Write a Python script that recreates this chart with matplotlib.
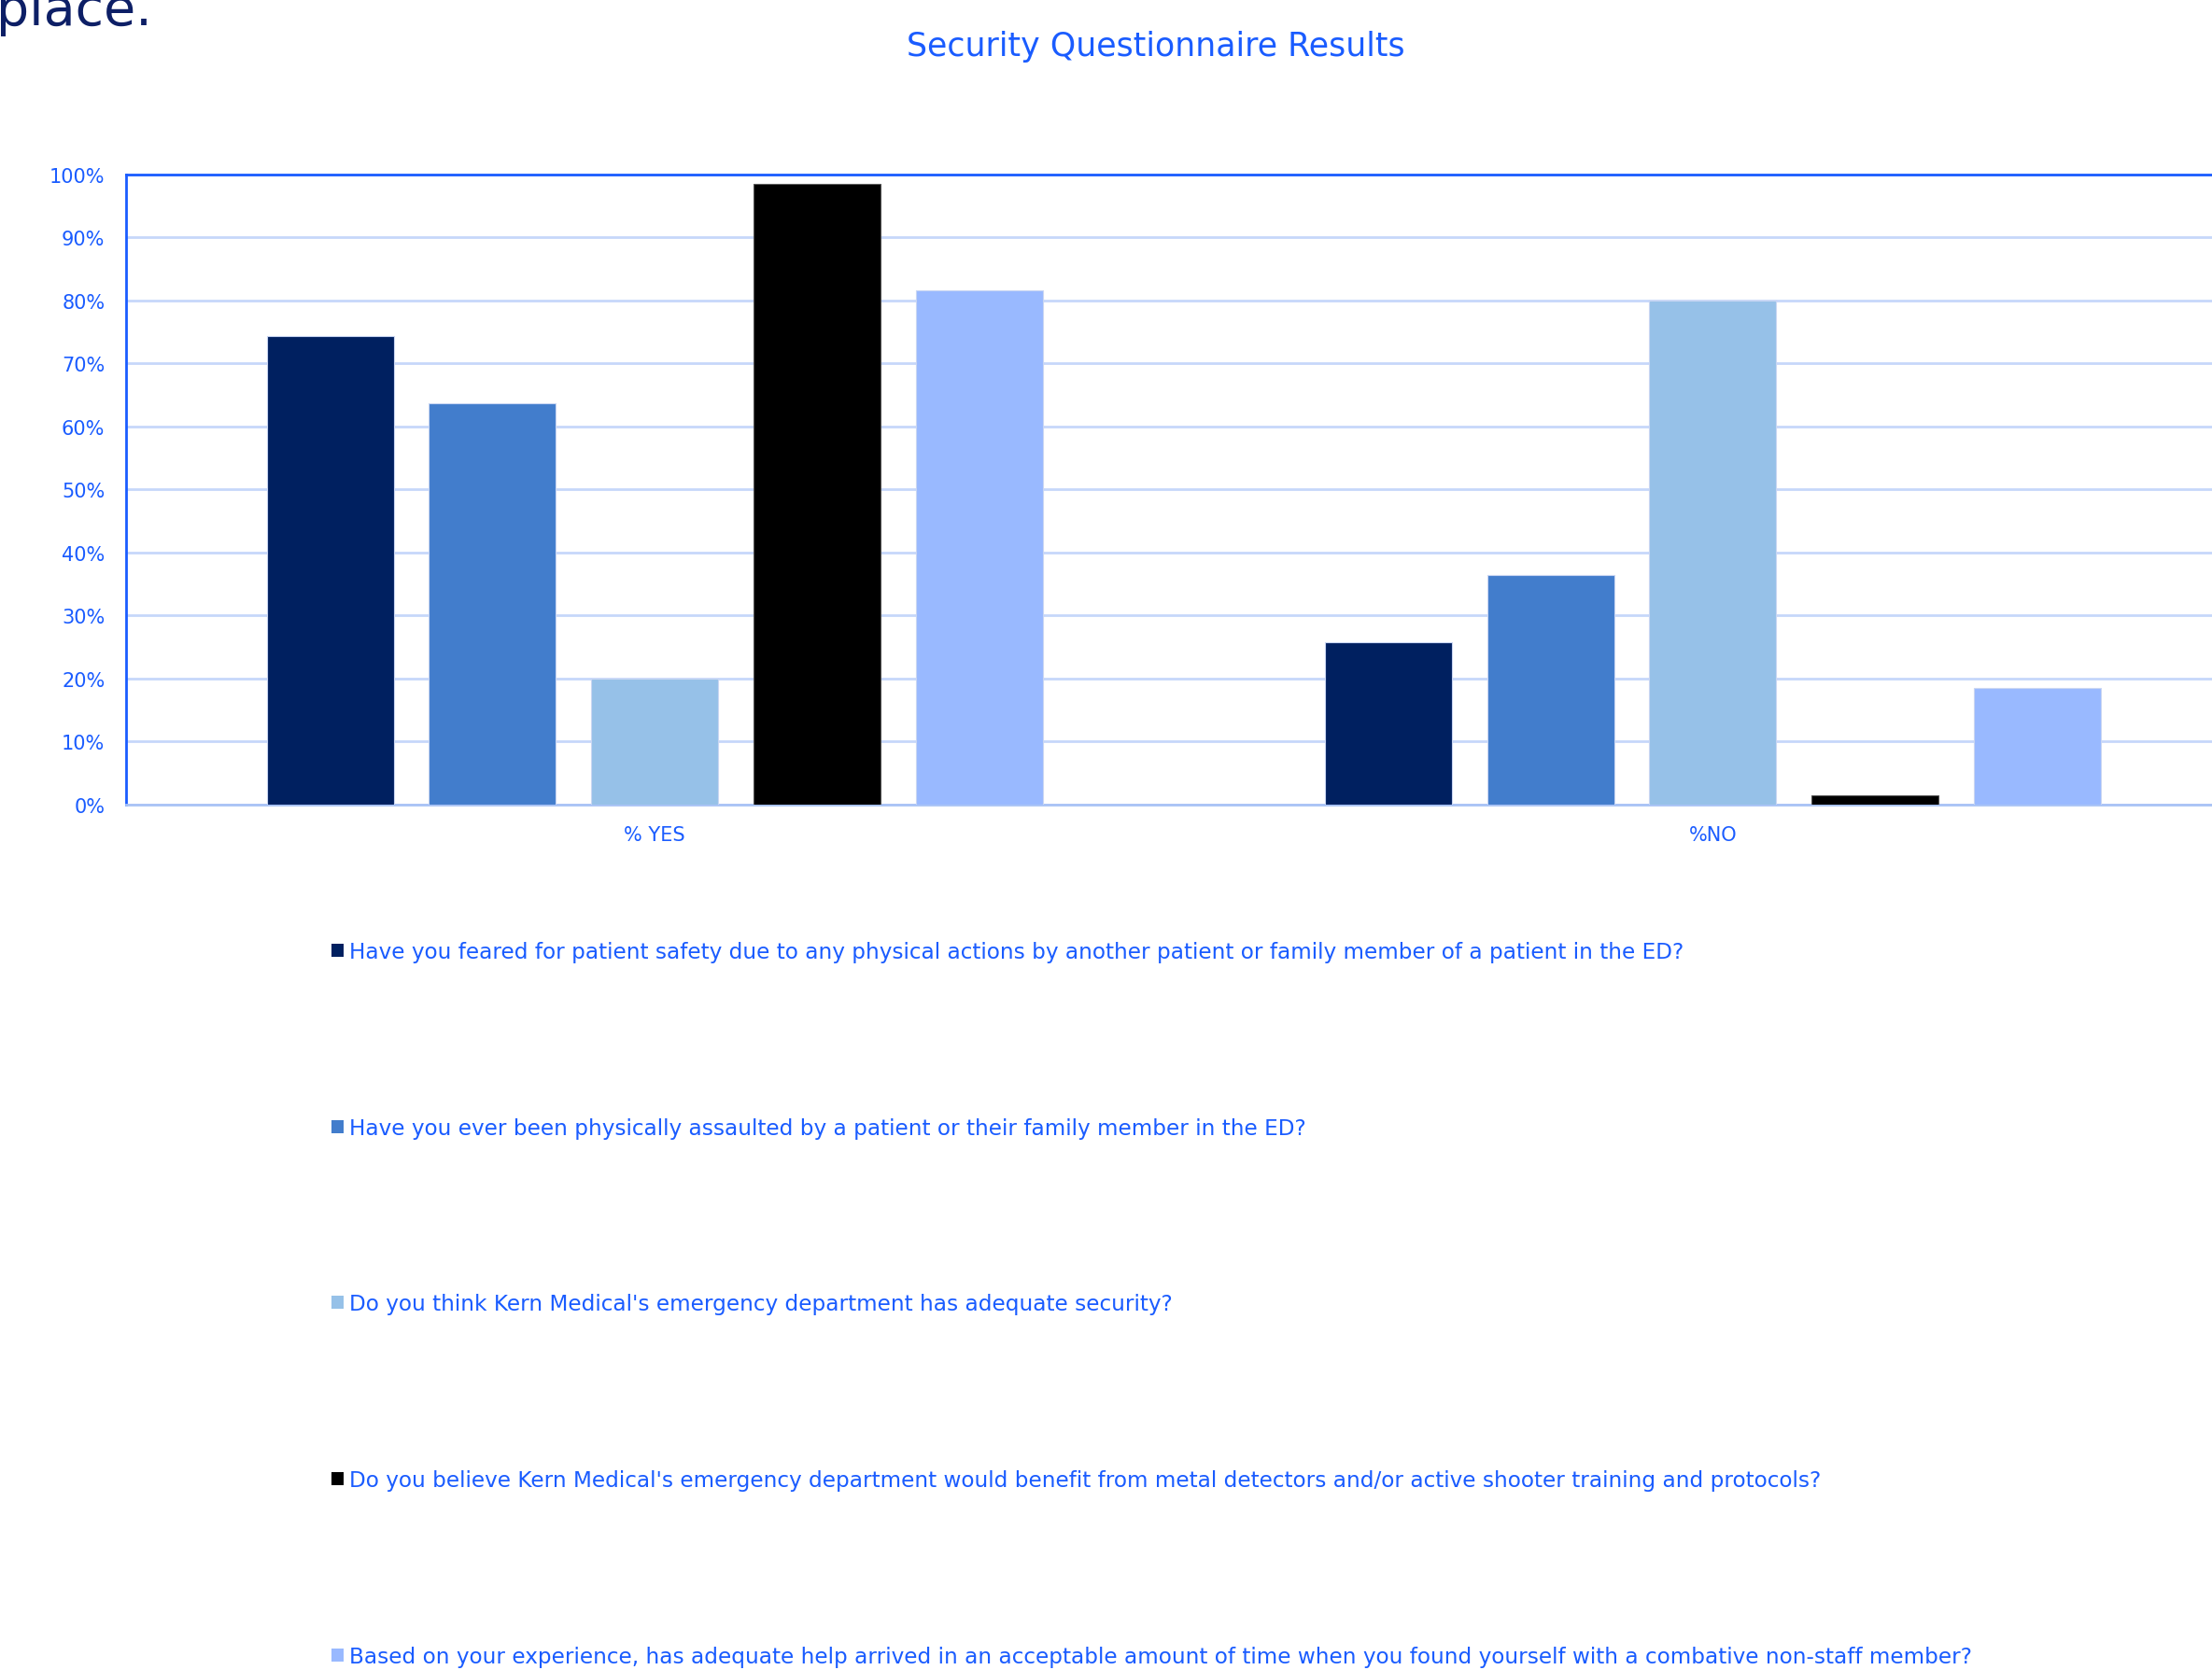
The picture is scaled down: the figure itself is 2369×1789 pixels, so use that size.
import numpy as np
import matplotlib
matplotlib.use('Agg')
import matplotlib.pyplot as plt
from matplotlib import font_manager

# %%
categories = ['% YES', '%NO']
questions = [
    'Have you feared for patient safety due to any physical actions by another patient or family member of a patient in the ED?',
    'Have you ever been physically assaulted by a patient or their family member in the ED?',
    "Do you think Kern Medical's emergency department has adequate security?",
    "Do you believe Kern Medical's emergency department would benefit from metal detectors and/or active shooter training and protocols?",
    'Based on your experience, has adequate help arrived in an acceptable amount of time when you found yourself with a combative non-staff member?',
]
pct_yes = [74.3, 63.6, 20.0, 98.5, 81.5]
pct_no = [25.7, 36.4, 80.0, 1.5, 18.5]
colors = ['#002060', '#427DCC', '#96C1E8', '#000000', '#99B9FF']
yticks = np.arange(0, 101, 10)

# %%
W, H, DPI = 2369, 1790, 100
TXT = '#1A5CFF'
names = {f.name for f in font_manager.fontManager.ttflist}
narrow = 'Liberation Sans Narrow' if 'Liberation Sans Narrow' in names else 'DejaVu Sans'

fig = plt.figure(figsize=(W/DPI, H/DPI), dpi=DPI)
fig.patch.set_facecolor('white')


def px(x, y):
    '''pixel (from top-left) -> figure fraction'''
    return x/W, 1 - y/H


def fit_width(txt, target):
    r = fig.canvas.get_renderer()
    w = txt.get_window_extent(r).width
    txt.set_fontsize(txt.get_fontsize()*target/w)
    return txt.get_fontsize()


# plot area runs past the right edge of the picture
x0, y0 = px(134.5, 863)
x1, y1 = px(2401, 187.5)
ax = fig.add_axes([x0, y0, x1-x0, y1-y0])

vals = np.array([pct_yes, pct_no]).T
xc = np.arange(len(categories))
step, bw = 0.1533, 0.12
bars = []
for i in range(len(questions)):
    b = ax.bar(xc + (i-2)*step, vals[i], width=bw, color=colors[i],
               edgecolor='#c9d6f2' if i != 3 else '#555555', linewidth=0.8,
               zorder=3)
    bars.append(b)

ax.set_xlim(-0.5, 1.5)
ax.set_ylim(0, 100)
ax.set_yticks(yticks)
ax.set_yticklabels([f'{v}%' for v in yticks])
ax.set_xticks(xc)
ax.set_xticklabels(categories)
ax.tick_params(axis='both', length=0, labelcolor=TXT, labelsize=15)
ax.tick_params(axis='y', pad=16)
ax.tick_params(axis='x', pad=16)
ax.yaxis.grid(True, color='#C6D7FA', linewidth=2, zorder=0)
ax.set_axisbelow(True)
for s in ['left', 'top', 'right']:
    ax.spines[s].set_color('#1A5CFF')
    ax.spines[s].set_linewidth(2)
ax.spines['bottom'].set_color('#A9C3F6')
ax.spines['bottom'].set_linewidth(2)

# title
t = fig.text(*px(1238, 50), 'Security Questionnaire Results', color=TXT,
             family=narrow, fontsize=30, ha='center', va='center')
fit_width(t, 533)

# cut-off slide text at top left
fig.text(*px(-4, 27), 'place.', color='#0D1F66', fontsize=40,
         ha='left', va='baseline')

# legend, one entry per question, widely spaced
probe = fig.text(0, 0, questions[0], family=narrow, fontsize=20)
fs = fit_width(probe, 1431)
probe.remove()
fpx = fs*DPI/72
leg = fig.legend([b[0] for b in bars], questions, loc='center left',
                 bbox_to_anchor=px(355, 1398), frameon=False,
                 prop={'family': narrow, 'size': fs}, labelcolor=TXT,
                 handlelength=13/fpx, handleheight=13/fpx,
                 handletextpad=6/fpx, borderpad=0, borderaxespad=0,
                 labelspacing=(193.5 - 1.2*fpx)/fpx)
for h in leg.legend_handles:
    h.set_linewidth(0)

fig.savefig('out.png', dpi=DPI)
